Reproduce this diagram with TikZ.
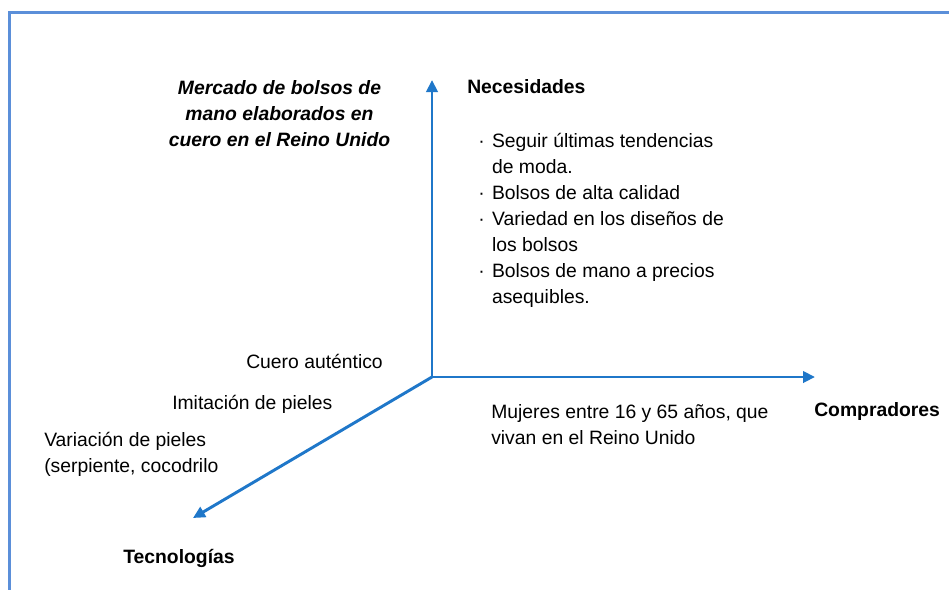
\documentclass[tikz,border=0pt]{standalone}
\usepackage{fontspec}
\setmainfont{Liberation Sans}
\usetikzlibrary{arrows.meta}
\definecolor{axisblue}{HTML}{1F77C9}
\definecolor{frameblue}{HTML}{5B8FD9}

\begin{document}
\begin{tikzpicture}[x=0.75pt, y=-0.75pt,
    every node/.style={inner sep=0pt, font=\fontsize{14.5}{19.5}\selectfont},
    head/.style={font=\fontsize{14.5}{19.5}\selectfont\bfseries},
    axis/.style={draw, axisblue, line width=2.2pt, -{Triangle[length=9pt, width=8.5pt]}}]
    \useasboundingbox (0,0) rectangle (949,590);
    \path[draw, frameblue, line width=2.3pt] (949,12.5) -- (9.5,12.5) -- (9.5,590);
    \coordinate (O) at (432,377);
    \coordinate (N) at (432,80);
    \coordinate (C) at (815,377);
    \coordinate (T) at (193,518);
    \path[axis] (O) -- (N);
    \path[axis] (O) -- (C);
    \path[axis] (O) -- (T);
    \node[font=\fontsize{14.5}{19.5}\selectfont\bfseries\itshape, align=center] (mercado) at (279.5,114) {Mercado de bolsos de\\mano elaborados en\\cuero en el Reino Unido};
    \node[head, anchor=base west] (necesidades) at (467,93) {Necesidades};
    \node[anchor=base west] (necList) at (478,147) {\begin{tabular}[t]{@{}l@{\hspace{5.5pt}}l@{}}
        · & Seguir últimas tendencias\\
          & de moda.\\
        · & Bolsos de alta calidad\\
        · & Variedad en los diseños de\\
          & los bolsos\\
        · & Bolsos de mano a precios\\
          & asequibles.
      \end{tabular}};
    \node[head, anchor=base west] (compradores) at (814,416) {Compradores};
    \node[anchor=base west] (mujeres) at (491,418) {\begin{tabular}[t]{@{}l@{}}
        Mujeres entre 16 y 65 años, que\\
        vivan en el Reino Unido
      \end{tabular}};
    \node[anchor=base west] (cuero) at (246,368) {Cuero auténtico};
    \node[anchor=base west] (imitacion) at (172,409) {Imitación de pieles};
    \node[anchor=base west] (variacion) at (44,446) {\begin{tabular}[t]{@{}l@{}}
        Variación de pieles\\
        (serpiente, cocodrilo
      \end{tabular}};
    \node[head, anchor=base west] (tecnologias) at (123,563) {Tecnologías};
\end{tikzpicture}
\end{document}
